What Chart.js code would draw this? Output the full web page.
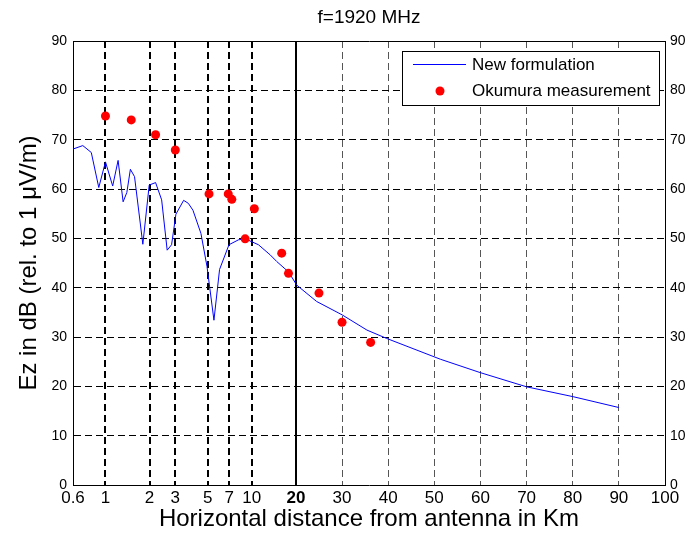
<!DOCTYPE html>
<html>
<head>
<meta charset="utf-8">
<script src="https://cdn.jsdelivr.net/npm/chart.js@4.4.1/dist/chart.umd.min.js"></script>
<style>
  html, body { margin: 0; padding: 0; background: #fff; }
  canvas { display: block; }
</style>
</head>
<body>
<canvas id="fieldChart" width="696" height="539"></canvas>
<script>
// =========================
// DATA
// =========================

// New formulation (distance in km, field in dB rel. 1 uV/m)
const lineKm = [0.6, 0.7, 0.8, 0.9, 1.0, 1.12, 1.22, 1.32, 1.4, 1.48, 1.58, 1.8, 1.99, 2.2, 2.42,
    2.64, 2.83, 3.03, 3.42, 3.68, 3.96, 4.49, 4.94, 5.51, 6.02, 6.98, 8.11, 9.02, 11.1, 13.4,
    14.8, 17.8, 20.2, 24.5, 30, 35.4, 39.7, 51.3, 59.9, 70, 80.1, 90];
const lineDb = [68.1, 68.8, 67.4, 60.3, 65.5, 60.6, 65.8, 57.4, 59.3, 64.0, 62.5, 48.8, 60.8, 61.3, 57.8,
    47.6, 48.7, 54.9, 57.7, 57.1, 55.7, 51.0, 44.3, 33.4, 43.7, 48.7, 49.7, 49.9, 48.7, 46.6,
    45.3, 43.2, 40.5, 37.2, 34.5, 31.4, 29.7, 25.5, 22.8, 19.9, 17.9, 15.7];

// Okumura measurement
const okuKm = [1.0, 1.5, 2.2, 3.0, 5.1, 6.9, 7.3, 9.0, 10.4, 16, 17.8, 25, 30, 36.2];
const okuDb = [74.8, 74.0, 71.0, 67.9, 59.0, 59.0, 57.9, 49.9, 56.0, 47.0, 42.9, 38.9, 33.0, 28.9];

// Tick labels
const xTicksKm = [0.6, 1, 2, 3, 5, 7, 10, 20, 30, 40, 50, 60, 70, 80, 90, 100];
const yTicks = [0, 10, 20, 30, 40, 50, 60, 70, 80, 90];

const seriesLabels = ["New formulation", "Okumura measurement"];

// =========================
// X AXIS: log from 0.6 to 20 km, linear from 20 to 100 km
// =========================

const KM_MIN = 0.6, KM_BREAK = 20, KM_MAX = 100;
const LOG_FRACTION = 0.3765; // share of the axis width taken by the log part

function toAxis(km) {
    if (km <= KM_BREAK) {
        return LOG_FRACTION * Math.log(km / KM_MIN) / Math.log(KM_BREAK / KM_MIN);
    }
    return LOG_FRACTION + (1 - LOG_FRACTION) * (km - KM_BREAK) / (KM_MAX - KM_BREAK);
}

const FONT = "'Liberation Sans', Arial, sans-serif";

function kmOf(ctx) {
    return ctx && ctx.tick ? ctx.tick.km : undefined;
}

// =========================
// LEGEND (boxed, inside the plot, top right)
// =========================

const boxedLegend = {
    id: "boxedLegend",
    afterDraw(chart) {
        const { ctx, chartArea } = chart;
        const right = chartArea.right - 6;
        const left = right - 257;
        const top = chartArea.top + 10;
        const height = 54;
        ctx.save();
        ctx.fillStyle = "#fff";
        ctx.fillRect(left, top, right - left, height);
        ctx.strokeStyle = "#000";
        ctx.lineWidth = 1;
        ctx.strokeRect(left + 0.5, top + 0.5, right - left, height);

        ctx.font = "17px " + FONT;
        ctx.fillStyle = "#000";
        ctx.textBaseline = "middle";
        ctx.fillText(seriesLabels[0], left + 70, top + 14);
        ctx.fillText(seriesLabels[1], left + 70, top + 40);

        ctx.strokeStyle = "#0000ff";
        ctx.beginPath();
        ctx.moveTo(left + 11, top + 13.5);
        ctx.lineTo(left + 64, top + 13.5);
        ctx.stroke();

        ctx.fillStyle = "#ff0000";
        ctx.beginPath();
        ctx.arc(left + 38, top + 40, 4.5, 0, Math.PI * 2);
        ctx.fill();
        ctx.restore();
    },
};

// =========================
// CHART
// =========================

const chartCtx = document.getElementById("fieldChart").getContext("2d");

new Chart(chartCtx, {
    type: "scatter",
    data: {
        datasets: [
            {
                label: seriesLabels[0],
                data: lineKm.map((km, i) => ({ x: toAxis(km), y: lineDb[i] })),
                showLine: true,
                borderColor: "#0000ff",
                borderWidth: 1,
                pointRadius: 0,
                tension: 0,
                order: 2,
            },
            {
                label: seriesLabels[1],
                data: okuKm.map((km, i) => ({ x: toAxis(km), y: okuDb[i] })),
                showLine: false,
                backgroundColor: "#ff0000",
                borderColor: "#ff0000",
                borderWidth: 0,
                pointRadius: 4.5,
                order: 1,
            },
        ],
    },
    options: {
        responsive: false,
        animation: false,
        layout: { padding: 0 },
        scales: {
            x: {
                type: "linear",
                position: "bottom",
                min: 0,
                max: 1,
                afterBuildTicks: (scale) => {
                    scale.ticks = xTicksKm.map((km) => ({ value: toAxis(km), km: km }));
                },
                afterFit: (scale) => { scale.height = 54; },
                ticks: {
                    autoSkip: false,
                    maxRotation: 0,
                    padding: 3,
                    color: "#000",
                    font: (ctx) => ({
                        family: FONT,
                        size: 17,
                        weight: kmOf(ctx) === 20 ? "bold" : "normal",
                    }),
                    callback: (value, index) => String(xTicksKm[index]),
                },
                grid: {
                    drawTicks: false,
                    color: (ctx) => {
                        const km = kmOf(ctx);
                        if (km === KM_MIN || km === KM_MAX) return "rgba(0,0,0,0)";
                        return km > KM_BREAK ? "#555" : "#000";
                    },
                    lineWidth: (ctx) => (kmOf(ctx) > KM_BREAK ? 1 : 2),
                },
                border: {
                    color: "#000",
                    width: 1,
                    dash: (ctx) => (kmOf(ctx) === KM_BREAK ? [] : [7, 4]),
                },
                title: {
                    display: true,
                    text: "Horizontal distance from antenna in Km",
                    color: "#000",
                    font: { family: FONT, size: 24, lineHeight: 1 },
                    padding: { top: 0, bottom: 8 },
                },
            },
            xTop: {
                type: "linear",
                position: "top",
                min: 0,
                max: 1,
                afterFit: (scale) => { scale.height = 41; },
                ticks: { display: false },
                grid: { display: false, drawTicks: false },
                border: { color: "#000", width: 1 },
                title: {
                    display: true,
                    text: "f=1920 MHz",
                    color: "#000",
                    font: { family: FONT, size: 19, lineHeight: 1 },
                    padding: { top: 8, bottom: 0 },
                },
            },
            y: {
                position: "left",
                min: 0,
                max: 90,
                afterBuildTicks: (scale) => {
                    scale.ticks = yTicks.map((v) => ({ value: v }));
                },
                afterFit: (scale) => { scale.width = 73; },
                ticks: {
                    padding: 6,
                    color: "#000",
                    font: { family: FONT, size: 14 },
                },
                grid: {
                    drawTicks: false,
                    color: (ctx) => {
                        const v = ctx.tick ? ctx.tick.value : 0;
                        return v === 0 || v === 90 ? "rgba(0,0,0,0)" : "#000";
                    },
                    lineWidth: 1,
                },
                border: { color: "#000", width: 1, dash: [7, 4] },
                title: {
                    display: true,
                    text: "Ez in dB (rel. to 1 \u03bcV/m)",
                    color: "#000",
                    font: { family: FONT, size: 24, lineHeight: 1 },
                    padding: { top: 17, bottom: 0 },
                },
            },
            yRight: {
                position: "right",
                min: 0,
                max: 90,
                afterBuildTicks: (scale) => {
                    scale.ticks = yTicks.map((v) => ({ value: v }));
                },
                afterFit: (scale) => { scale.width = 31; },
                ticks: {
                    padding: 5,
                    color: "#000",
                    font: { family: FONT, size: 14 },
                },
                grid: { display: false, drawTicks: false },
                border: { color: "#000", width: 1 },
            },
        },
        plugins: {
            legend: { display: false },
            tooltip: { enabled: false },
        },
    },
    plugins: [boxedLegend],
});
</script>
</body>
</html>
